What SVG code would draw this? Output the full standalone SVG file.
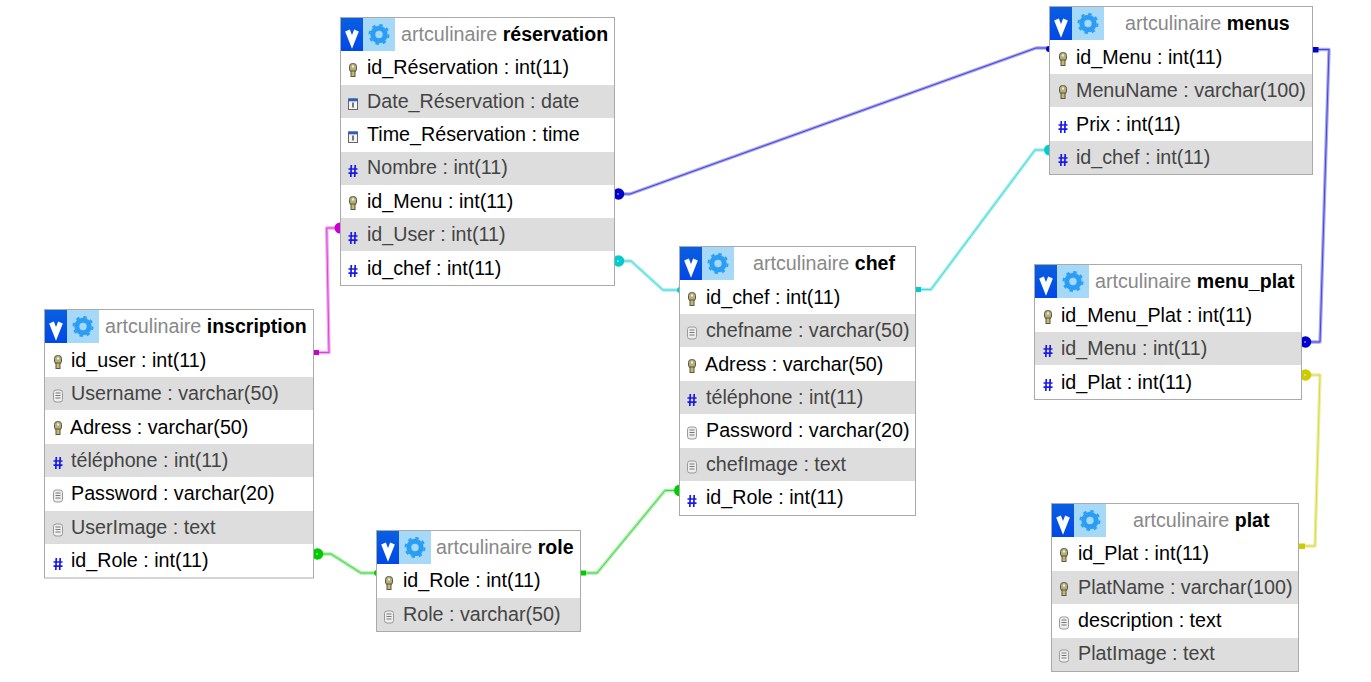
<svg xmlns="http://www.w3.org/2000/svg" width="1371" height="682" viewBox="0 0 1371 682">
<style>
text{font-family:"Liberation Sans",Arial,sans-serif;font-size:19.7px;fill:#000}
.db{fill:#888}.t{font-weight:bold;font-size:19.55px}.g{fill:#444}
.box{fill:#fff;stroke:#aaa;stroke-width:1}
.alt{fill:#ddd}
.halo,.core{fill:none;stroke-linejoin:round}
.halo{stroke-width:3.4;stroke-opacity:.34}
.core{stroke-width:1;stroke-opacity:.6}
.m{stroke:#c0c}.b{stroke:#00c}.c{stroke:#0cc}.n{stroke:#0c0}.y{stroke:#cc0}
.fm{fill:#c0c}.fb{fill:#00c}.fc{fill:#0cc}.fn{fill:#0c0}.fy{fill:#cc0}
.dot{fill:#fff;fill-opacity:.5}
</style>
<defs>
<linearGradient id="vg" x1="0" y1="0" x2="0" y2="1"><stop offset="0" stop-color="#0a5fe0"/><stop offset="1" stop-color="#0048e8"/></linearGradient>
<g id="hd">
<rect x="0" y="0" width="54" height="33" fill="#a6d8f8"/>
<rect x="0" y="0" width="22" height="33" fill="url(#vg)"/>
<path d="M6.500 12.500 L11 24 L15.500 12.500" fill="none" stroke="#fff" stroke-width="5"/>
<circle cx="38" cy="16.500" r="6.200" fill="none" stroke="#2a9df4" stroke-width="5"/>
<circle cx="38" cy="16.500" r="9.500" fill="none" stroke="#2a9df4" stroke-width="2" stroke-dasharray="3.500 3.960"/>
</g>
<g id="key">
<rect x="-3.500" y="-6.500" width="7" height="8.500" rx="3" fill="#b8b070" stroke="#555" stroke-width="1"/>
<rect x="-2" y="1" width="4" height="5.500" fill="#c8b860" stroke="#555" stroke-width="1"/>
<rect x="-1" y="-4.500" width="2" height="2" fill="#eee"/>
</g>
<path id="hash" d="M-1.700 -6 L-2.200 6 M2.200 -6 L1.700 6 M-4.500 -2 H4.500 M-4.500 2.200 H4.500" fill="none" stroke="#1a1ae6" stroke-width="1.700"/>
<g id="doc">
<rect x="-4.500" y="-6" width="9" height="12" rx="2.500" fill="#eee" stroke="#999" stroke-width="1"/>
<path d="M-2.500 -3 H2.500 M-2.500 -.5 H2.500 M-2.500 2 H2.500" stroke="#777" stroke-width="1"/>
</g>
<g id="cal">
<rect x="-4.500" y="-5" width="9" height="10.500" fill="#f4f4f4" stroke="#666" stroke-width="1"/>
<rect x="-4.500" y="-5.500" width="9" height="2.800" fill="#2a5fc0"/>
<path d="M0 -1.500 V3.500" stroke="#333" stroke-width="1.300"/>
</g>
</defs>

<g id="connectors">
<path class="m halo" d="M319 352.500H329L326.700 228H340"/><path class="m core" d="M319 352.500H329L326.700 228H340"/>
<rect class="fm" x="314" y="350" width="5" height="5"/><circle class="fm" cx="340" cy="228" r="5.500"/>

<path class="b halo" d="M622 194H630L1036 48H1050"/><path class="b core" d="M622 194H630L1036 48H1050"/>
<circle class="fb" cx="618.500" cy="194" r="5.800"/><circle class="dot" cx="618" cy="194" r="1"/><circle class="fb" cx="1049" cy="49" r="3"/>

<path class="c halo" d="M622 261H631L663 290H680"/><path class="c core" d="M622 261H631L663 290H680"/>
<circle class="fc" cx="618.500" cy="261" r="5.800"/><circle class="dot" cx="618" cy="261" r="1"/><circle class="fc" cx="680" cy="290" r="3"/>

<path class="c halo" d="M921 289.500H931L1035 150H1049"/><path class="c core" d="M921 289.500H931L1035 150H1049"/>
<rect class="fc" x="916" y="287" width="5" height="5"/><circle class="fc" cx="1049.500" cy="150" r="5.500"/>

<path class="n halo" d="M320 554H331L361 573H377"/><path class="n core" d="M320 554H331L361 573H377"/>
<circle class="fn" cx="317.500" cy="554" r="5.800"/><circle class="dot" cx="317" cy="554" r="1"/><circle class="fn" cx="377" cy="573" r="3"/>

<path class="n halo" d="M585 573H597L665 490.500H680"/><path class="n core" d="M585 573H597L665 490.500H680"/>
<rect class="fn" x="581" y="570.500" width="5" height="5"/><circle class="fn" cx="680" cy="490.500" r="6"/>

<path class="b halo" d="M1318 49.500H1329L1320 342H1306"/><path class="b core" d="M1318 49.500H1329L1320 342H1306"/>
<rect class="fb" x="1313" y="47" width="5.500" height="5.500"/><circle class="fb" cx="1305.500" cy="342" r="5.800"/><circle class="dot" cx="1305" cy="342" r="1"/>

<path class="y halo" d="M1306 375H1320L1315 546H1300"/><path class="y core" d="M1306 375H1320L1315 546H1300"/>
<circle class="fy" cx="1305.500" cy="375" r="5.800"/><circle class="dot" cx="1305" cy="375" r="1"/><rect class="fy" x="1299" y="543.500" width="6" height="5.500"/>
</g>

<g id="reservation">
<rect class="box" x="340.500" y="17.500" width="274" height="268"/>
<rect class="alt" x="341" y="85" width="273" height="33"/><rect class="alt" x="341" y="152" width="273" height="33"/><rect class="alt" x="341" y="218" width="273" height="33"/>
<use href="#hd" x="341" y="18"/>
<text x="401" y="41"><tspan class="db">artculinaire </tspan><tspan class="t">réservation</tspan></text>
<use href="#key" x="353" y="70"/><text x="367" y="74">id_Réservation : int(11)</text>
<use href="#cal" x="353" y="104"/><text class="g" x="367" y="108">Date_Réservation : date</text>
<use href="#cal" x="353" y="137"/><text x="367" y="141">Time_Réservation : time</text>
<use href="#hash" x="353" y="171"/><text class="g" x="367" y="174">Nombre : int(11)</text>
<use href="#key" x="353" y="203"/><text x="367" y="208">id_Menu : int(11)</text>
<use href="#hash" x="353" y="238"/><text class="g" x="367" y="241">id_User : int(11)</text>
<use href="#hash" x="353" y="271"/><text x="367" y="275">id_chef : int(11)</text>
</g>

<g id="inscription">
<rect class="box" x="44.500" y="309.500" width="269" height="268.500"/>
<rect class="alt" x="45" y="377" width="268" height="33"/><rect class="alt" x="45" y="444" width="268" height="33"/><rect class="alt" x="45" y="511" width="268" height="33"/>
<use href="#hd" x="45" y="310"/>
<text x="105" y="333"><tspan class="db">artculinaire </tspan><tspan class="t">inscription</tspan></text>
<use href="#key" x="58" y="362"/><text x="71" y="367">id_user : int(11)</text>
<use href="#doc" x="58" y="396"/><text class="g" x="71" y="400">Username : varchar(50)</text>
<use href="#key" x="58" y="428"/><text x="70" y="434">Adress : varchar(50)</text>
<use href="#hash" x="58" y="463"/><text class="g" x="71" y="467">téléphone : int(11)</text>
<use href="#doc" x="58" y="496"/><text x="71" y="500">Password : varchar(20)</text>
<use href="#doc" x="58" y="530"/><text class="g" x="71" y="534">UserImage : text</text>
<use href="#hash" x="58" y="564"/><text x="71" y="567">id_Role : int(11)</text>
</g>

<g id="role">
<rect class="box" x="376.500" y="530.500" width="204" height="101"/>
<rect class="alt" x="377" y="598" width="203" height="33"/>
<use href="#hd" x="377" y="531"/>
<text x="436" y="554"><tspan class="db">artculinaire </tspan><tspan class="t">role</tspan></text>
<use href="#key" x="389" y="583"/><text x="403" y="587">id_Role : int(11)</text>
<use href="#doc" x="389" y="617"/><text class="g" x="403" y="621">Role : varchar(50)</text>
</g>

<g id="chef">
<rect class="box" x="679.500" y="246.500" width="236" height="269"/>
<rect class="alt" x="680" y="314" width="235" height="33"/><rect class="alt" x="680" y="381" width="235" height="33"/><rect class="alt" x="680" y="448" width="235" height="33"/>
<use href="#hd" x="680" y="247"/>
<text x="753" y="270"><tspan class="db">artculinaire </tspan><tspan class="t">chef</tspan></text>
<use href="#key" x="692" y="299"/><text x="706" y="304">id_chef : int(11)</text>
<use href="#doc" x="692" y="333"/><text class="g" x="706" y="337">chefname : varchar(50)</text>
<use href="#key" x="692" y="366"/><text x="705" y="371">Adress : varchar(50)</text>
<use href="#hash" x="692" y="400"/><text class="g" x="706" y="404">téléphone : int(11)</text>
<use href="#doc" x="692" y="433"/><text x="706" y="437">Password : varchar(20)</text>
<use href="#doc" x="692" y="467"/><text class="g" x="706" y="471">chefImage : text</text>
<use href="#hash" x="692" y="501"/><text x="706" y="504">id_Role : int(11)</text>
</g>

<g id="menus">
<rect class="box" x="1049.500" y="6.500" width="263" height="168"/>
<rect class="alt" x="1050" y="74" width="262" height="33"/><rect class="alt" x="1050" y="141" width="262" height="33"/>
<use href="#hd" x="1050" y="7"/>
<text x="1125" y="30"><tspan class="db">artculinaire </tspan><tspan class="t">menus</tspan></text>
<use href="#key" x="1063" y="59"/><text x="1076" y="64">id_Menu : int(11)</text>
<use href="#key" x="1063" y="92"/><text class="g" x="1076" y="97">MenuName : varchar(100)</text>
<use href="#hash" x="1063" y="127"/><text x="1076" y="131">Prix : int(11)</text>
<use href="#hash" x="1063" y="160"/><text class="g" x="1076" y="164">id_chef : int(11)</text>
</g>

<g id="menu_plat">
<rect class="box" x="1034.500" y="264.500" width="267" height="135"/>
<rect class="alt" x="1035" y="332" width="266" height="33"/>
<use href="#hd" x="1035" y="265"/>
<text x="1095" y="288"><tspan class="db">artculinaire </tspan><tspan class="t">menu_plat</tspan></text>
<use href="#key" x="1048" y="317"/><text x="1061" y="322">id_Menu_Plat : int(11)</text>
<use href="#hash" x="1048" y="351"/><text class="g" x="1061" y="355">id_Menu : int(11)</text>
<use href="#hash" x="1048" y="385"/><text x="1061" y="389">id_Plat : int(11)</text>
</g>

<g id="plat">
<rect class="box" x="1051.500" y="503.500" width="247" height="168"/>
<rect class="alt" x="1052" y="571" width="246" height="33"/><rect class="alt" x="1052" y="638" width="246" height="33"/>
<use href="#hd" x="1052" y="504"/>
<text x="1133" y="527"><tspan class="db">artculinaire </tspan><tspan class="t">plat</tspan></text>
<use href="#key" x="1064" y="555"/><text x="1078" y="560">id_Plat : int(11)</text>
<use href="#key" x="1064" y="589"/><text class="g" x="1078" y="594">PlatName : varchar(100)</text>
<use href="#doc" x="1064" y="623"/><text x="1078" y="627">description : text</text>
<use href="#doc" x="1064" y="656"/><text class="g" x="1078" y="660">PlatImage : text</text>
</g>
</svg>
